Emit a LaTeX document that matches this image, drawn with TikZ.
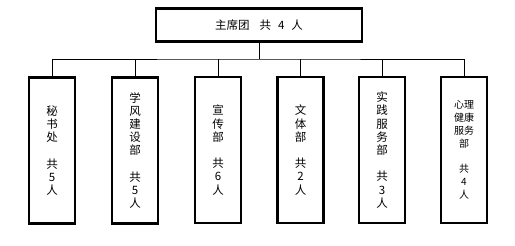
\documentclass[tikz,border=0pt]{standalone}
\usepackage{fontspec}
\setmainfont{Noto Sans CJK SC}
\begin{document}
\begin{tikzpicture}[x=1pt,y=-1pt,
  topbox/.style={draw,line width=2.6pt,minimum width=206pt,minimum height=33pt,inner sep=0pt},
  deptbox/.style={draw,line width=2.6pt,minimum width=46pt,minimum height=146pt,inner sep=0pt,align=center,
    font=\fontsize{11.5}{13.2}\selectfont},
  conn/.style={line width=0.8pt}]
\useasboundingbox (0,0) rectangle (515,246);
\node[topbox,font=\fontsize{11.5}{13}\selectfont] (top) at (259,25) {主席团\hspace{10pt}共\hspace{7pt}4\hspace{7pt}人};
\node[deptbox] (d1) at (52,150.5) {秘\\书\\处\\[13.2pt]共\\5\\人};
\node[deptbox] (d2) at (135,150.5) {学\\风\\建\\设\\部\\[13.2pt]共\\5\\人};
\node[deptbox] (d3) at (218,150) {宣\\传\\部\\[13.2pt]共\\6\\人};
\node[deptbox] (d4) at (300.5,150) {文\\体\\部\\[13.2pt]共\\2\\人};
\node[deptbox] (d5) at (382,150) {实\\践\\服\\务\\部\\[13.2pt]共\\3\\人};
\node[deptbox,font=\fontsize{10}{12.8}\selectfont] (d6) at (464,150) {心理\\健康\\服务\\部\\[12.8pt]共\\4\\人};
\coordinate (bar) at (259,59);
\draw[conn] (top.south) -- (bar);
\draw[conn] (d1.north) |- (bar) -| (d6.north);
\foreach \n in {d2,d3,d4,d5} \draw[conn] (\n.north) -- (\n.north |- bar);
\end{tikzpicture}
\end{document}
